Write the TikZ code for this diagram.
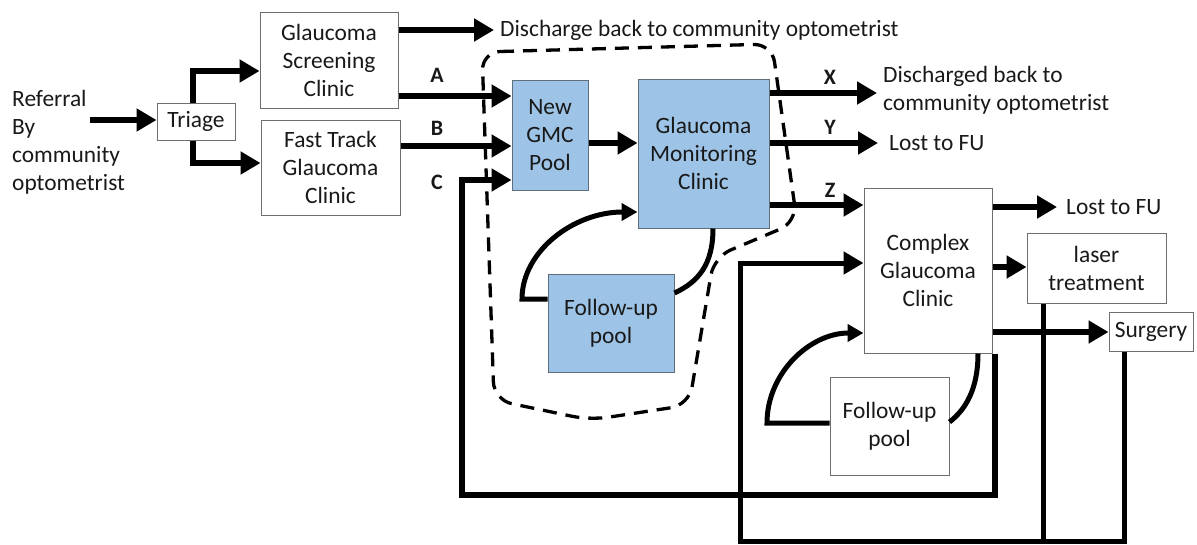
\documentclass[tikz,border=0pt]{standalone}
\usepackage{fontspec}
\setmainfont{Carlito}
\usetikzlibrary{arrows.meta,calc}
\definecolor{poolblue}{RGB}{157,195,230}
\definecolor{boxedge}{RGB}{110,110,110}
\definecolor{bluedge}{RGB}{95,110,125}
\begin{document}
\begin{tikzpicture}[x=1pt,y=-1pt,
  every node/.style={font=\fontsize{23.4}{28}\selectfont, text=black!90},
  box/.style={draw=boxedge, line width=1pt, fill=white, align=center, inner sep=0pt},
  bluebox/.style={box, fill=poolblue, draw=bluedge},
  txt/.style={align=left, inner ysep=0pt},
  lbl/.style={font=\bfseries\fontsize{22}{24}\selectfont, inner sep=0pt},
  arr/.style={line width=6pt, -{Triangle[length=20pt,width=22pt]}},
  arrthin/.style={line width=5pt, -{Triangle[length=20pt,width=22pt]}},
  curvearr/.style={line width=5pt, -{Triangle[length=16pt,width=17pt]}},
  link/.style={line width=5pt},
  region/.style={line width=3.3pt, dash pattern=on 14pt off 9pt}
]
\useasboundingbox (0,0) rectangle (1197,544);

% dashed boundary
\draw[region, rounded corners=18pt] (482,52) -- (772,44) -- (797,222) -- (714,257) -- (689,405) -- (590,420) -- (494,400) -- cycle;

% nodes
\node[txt, anchor=west, inner xsep=4pt] (ref) at (8,142) {Referral\\By\\community\\optometrist};
\node[box, minimum width=78pt, minimum height=37pt] (triage) at (196,121.5) {Triage};
\node[box, minimum width=138pt, minimum height=96pt] (gsc) at (329,60.5) {Glaucoma\\Screening\\Clinic};
\node[box, minimum width=139pt, minimum height=95pt] (ftc) at (330.5,167.5) {Fast Track\\Glaucoma\\Clinic};
\node[txt, anchor=west, inner xsep=6pt] (dis1) at (494,30) {Discharge back to community optometrist};
\node[bluebox, minimum width=76pt, minimum height=110pt] (ngmc) at (550,135.5) {New\\GMC\\Pool};
\node[bluebox, minimum width=131pt, minimum height=149pt] (gmc) at (703.5,153.5) {Glaucoma\\Monitoring\\Clinic};
\node[bluebox, minimum width=126pt, minimum height=98pt] (fup1) at (611,323) {Follow-up\\pool};
\node[txt, anchor=west, inner xsep=6pt] (dis2) at (877,90) {Discharged back to\\community optometrist};
\node[txt, anchor=west, inner xsep=11pt] (lost1) at (878,143) {Lost to FU};
\node[box, minimum width=128pt, minimum height=165pt] (cgc) at (928,270.5) {Complex\\Glaucoma\\Clinic};
\node[txt, anchor=west, inner xsep=9pt] (lost2) at (1057,207) {Lost to FU};
\node[box, minimum width=139pt, minimum height=70pt] (laser) at (1096.5,268) {laser\\treatment};
\node[box, minimum width=84pt, minimum height=39pt] (surg) at (1151,331.5) {Surgery};
\node[box, minimum width=119pt, minimum height=98pt] (fup2) at (889.5,426) {Follow-up\\pool};

% labels
\node[lbl] (la) at (437,75) {A};
\node[lbl] (lb) at (437,128) {B};
\node[lbl] (lc) at (437,182) {C};
\node[lbl] (lx) at (830,77) {X};
\node[lbl] (ly) at (830,127) {Y};
\node[lbl] (lz) at (830,190) {Z};

% connectors
\coordinate (refout) at (90,120);
\draw[arr] (refout) -- (triage.west |- 0,120);
\draw[arr] (triage.north -| 193,0) |- (gsc.west |- 0,71);
\draw[arr] (triage.south -| 193,0) |- (ftc.west |- 0,163);
\draw[arr] (gsc.east |- 0,30) -- (dis1.west |- 0,30);
\draw[arr] (gsc.east |- 0,96) -- (ngmc.west |- 0,96);
\draw[arr] (ftc.east |- 0,146) -- (ngmc.west |- 0,146);
\draw[arr] (cgc.south east -| 995,0) |- (462,495) |- (ngmc.west |- 0,180);
\draw[arr] (ngmc.east |- 0,143) -- (gmc.west |- 0,143);
\draw[arr] (gmc.east |- 0,93) -- (dis2.west |- 0,93);
\draw[arr] (gmc.east |- 0,143) -- (lost1.west |- 0,143);
\draw[arr] (gmc.east |- 0,205) -- (cgc.west |- 0,205);
\draw[arr] (cgc.east |- 0,207) -- (lost2.west |- 0,207);
\draw[arr] (cgc.east |- 0,267) -- (laser.west |- 0,267);
\draw[arr] (cgc.east |- 0,332) -- (surg.west |- 0,332);
\draw[link] (laser.south -| 1043,0) -- (1043,541);
\draw[arrthin] (surg.south -| 1124,0) |- (740,541) |- (cgc.west |- 0,263);

% follow-up loops
\draw[curvearr] (fup1.west |- 0,299) -- (522,299) .. controls (522,251) and (574,212) .. (gmc.west |- 0,212);
\draw[link] (gmc.south -| 713,0) .. controls (713,265) and (698,282) .. (fup1.east |- 0,293);
\draw[curvearr] (fup2.west |- 0,423) -- (767,423) .. controls (767,373) and (810,333) .. (cgc.west |- 0,333);
\draw[link] (cgc.south -| 978,0) .. controls (978,390) and (965,410) .. (fup2.east |- 0,422);
\end{tikzpicture}
\end{document}
